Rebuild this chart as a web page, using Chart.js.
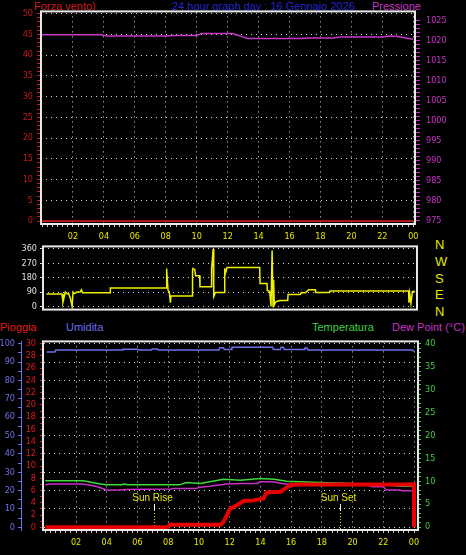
<!DOCTYPE html>
<html><head><meta charset="utf-8">
<script src="https://cdn.jsdelivr.net/npm/chart.js@4.4.1/dist/chart.umd.min.js"></script>
<style>
html,body{margin:0;padding:0;background:#000;width:466px;height:555px;overflow:hidden;position:relative;}
canvas{position:absolute;left:0;}
.t{position:absolute;font-family:'Liberation Sans',Arial,sans-serif;font-size:11px;line-height:12px;white-space:nowrap;}
.d{position:absolute;left:435px;font-family:'Liberation Sans',Arial,sans-serif;font-size:13px;line-height:13px;color:#e6e600;}
</style></head><body>
<div class="t" style="left:34px;top:0px;color:#d01c1c">Forza vento)</div>
<div class="t" style="left:172px;top:0px;color:#2424c8">24 hour graph day : 16 Gennaio 2026</div>
<div class="t" style="left:372px;top:0px;color:#c832c8">Pressione</div>
<div class="d" style="top:238px">N</div>
<div class="d" style="top:255px">W</div>
<div class="d" style="top:272px">S</div>
<div class="d" style="top:288px">E</div>
<div class="d" style="top:305px">N</div>
<div class="t" style="left:0px;top:321px;color:#e01c1c">Pioggia</div>
<div class="t" style="left:66px;top:321px;color:#6c6cf0">Umidita</div>
<div class="t" style="left:312px;top:321px;color:#40d040">Temperatura</div>
<div class="t" style="left:392px;top:321px;color:#c832c8">Dew Point (°C)</div>
<canvas id="c1" width="466" height="245" style="top:0px"></canvas>
<canvas id="c2" width="466" height="80" style="top:238px"></canvas>
<canvas id="c3" width="466" height="223" style="top:332px"></canvas>
<script>
// ---------- data ----------
const labelHours = [2, 4, 6, 8, 10, 12, 14, 16, 18, 20, 22, 24];
const hourTickLabels = ['02','04','06','08','10','12','14','16','18','20','22','00'];

const windHours = [0, 6, 12, 18, 24];
const windSpeed = [0, 0, 0, 0, 0];

const pressureHours = [0, 3.8, 4.2, 8.0, 8.5, 10.0, 10.3, 12.3, 12.7, 13.3, 16.7, 17.2, 18.8, 19.3, 22.0, 22.5, 23.0, 23.5, 24.0];
const pressure = [1021.4, 1021.4, 1021.1, 1021.1, 1021.25, 1021.25, 1021.7, 1021.7, 1021.25, 1020.5, 1020.45, 1020.6, 1020.6, 1020.85, 1020.85, 1021.1, 1021.0, 1020.6, 1020.3];

const dirHours = [0.28,1.29,1.35,1.5,1.61,1.72,1.83,1.94,2.0,2.09,2.26,2.47,2.54,2.62,4.41,4.41,8.01,8.03,8.07,8.14,8.22,8.29,8.33,9.69,9.72,9.75,9.86,9.92,10.18,10.2,10.92,10.95,11.0,11.05,11.09,11.2,11.78,11.8,11.84,11.95,14.06,14.08,14.53,14.55,14.7,14.79,14.86,14.92,14.96,15.0,15.07,15.18,15.39,15.87,15.89,16.68,16.75,17.0,17.22,17.65,17.67,18.58,18.6,23.68,23.7,23.75,23.83,23.92,24.1];
const windDir = [77,77,27,90,80,80,50,0,90,80,90,90,104,85,85,115,115,238,225,100,90,23,65,65,225,238,230,192,192,123,123,238,292,360,62,87,87,238,206,244,244,144,144,100,95,0,350,0,167,10,25,33,37,37,75,75,87,85,104,104,87,87,96,96,23,80,19,94,94];

const rainHours = [0, 7.95, 8.1, 11.4, 11.6, 12.04, 12.48, 12.9, 13.56, 14.2, 14.4, 15.3, 15.95, 16.4, 24, 24];
const rain = [0, 0, 0.4, 0.4, 0.9, 3.1, 3.6, 4.3, 4.4, 4.7, 5.7, 5.8, 6.9, 7.0, 7.0, 0];

const humHours = [0.1,0.62,0.68,5.0,5.05,6.0,6.05,6.9,6.95,7.3,7.35,11.3,11.35,11.6,11.65,12.1,12.15,14.8,14.85,15.3,15.35,15.5,15.55,16.85,16.9,17.05,17.1,23.9,23.95,24.0];
const humidity = [95.5,95.5,96.5,96.5,97,97,96.5,96.5,97.1,97.1,96.6,96.6,97.8,97.8,96.8,96.8,98,98,96.8,96.8,98,98,96.8,96.8,97.6,97.6,96.6,96.6,96.0,96.0];

const tempHours = [0, 2.5, 2.8, 3.4, 3.9, 5.0, 5.1, 5.4, 8.7, 9.2, 10.1, 10.7, 11.6, 12.7, 14.0, 14.9, 15.7, 16.6, 17.9, 20.9, 22.0, 23.1, 23.9];
const temperature = [10.1,10.1,9.9,9.5,9.2,9.2,9.4,9.2,9.2,9.7,9.5,9.9,10.4,10.2,10.6,10.4,10.0,9.9,9.7,9.4,9.2,8.9,8.9];

const dewHours = [0, 0.3, 2.3, 2.8, 3.4, 4.0, 4.9, 5.2, 8.2, 8.3, 9.8, 10.1, 10.7, 11.8, 12.7, 13.8, 14.0, 14.8, 15.4, 15.7, 18.6, 18.7, 20.9, 21.3, 22.0, 22.2, 23.1, 23.2, 23.85];
const dewPoint = [9.2, 9.4, 9.4, 9.2, 8.8, 8.1, 8.1, 8.2, 8.3, 8.4, 8.4, 8.7, 8.9, 9.4, 9.5, 9.5, 9.9, 9.9, 9.5, 9.4, 9.4, 9.2, 9.2, 8.8, 8.8, 8.1, 8.1, 7.9, 7.9];

const sunHours = [7.05, 19.2];
const sunLabels = ['Sun Rise', 'Sun Set'];

// ---------- helpers ----------
const FONT = "'Liberation Sans Narrow','DejaVu Sans Condensed','Liberation Sans',sans-serif";
const TICK_FONT = {family: FONT, size: 9};
const YEL = '#e6e600', GRIDC = '#d8d8d8';
const near = (a, b) => Math.abs(a - b) < 1e-6;
const pts = (xs, ys) => xs.map((x, i) => ({x: x, y: ys[i]}));
const range = (a, b, s) => { const r = []; for (let i = 0; a + i * s <= b + 1e-9; i++) r.push(+(a + i * s).toFixed(6)); return r; };
const minorHourTicks = range(0, 24, 1 / 3);

function hourLabel(v) {
  const i = labelHours.findIndex(h => near(h, v));
  return i >= 0 ? hourTickLabels[i] : '';
}

function xAxis(min, max, height, gridOn, display) {
  return {
    type: 'linear', position: 'bottom', min: min, max: max, bounds: 'data', display: display,
    afterBuildTicks: s => { s.ticks = minorHourTicks.map(v => ({value: v})); },
    afterFit: s => { s.height = height; },
    ticks: {autoSkip: false, maxRotation: 0, minRotation: 0, padding: 4, color: YEL, font: TICK_FONT,
      callback: v => hourLabel(v)},
    grid: {color: c => (gridOn && c.tick && labelHours.some(h => near(h, c.tick.value))) ? GRIDC : 'rgba(0,0,0,0)',
      tickColor: '#c8c8c8', tickLength: 3, lineWidth: 1},
    border: {display: false, dash: [1, 4]}
  };
}

function yAxis(o) {
  return {
    type: 'linear', axis: 'y', position: o.position, min: o.min, max: o.max, bounds: 'data', weight: o.weight || 0,
    afterBuildTicks: s => { s.ticks = o.tickVals.map(v => ({value: v})); },
    afterFit: s => { s.width = o.width; },
    ticks: {autoSkip: false, padding: o.padding, color: o.labelColor, font: TICK_FONT,
      callback: v => (Math.abs(v / o.labelEvery - Math.round(v / o.labelEvery)) < 1e-6) ? String(v) : ''},
    grid: {
      drawOnChartArea: !!o.gridEvery,
      color: c => (o.gridEvery && c.tick && Math.abs(c.tick.value / o.gridEvery - Math.round(c.tick.value / o.gridEvery)) < 1e-6) ? GRIDC : 'rgba(0,0,0,0)',
      tickColor: o.tickColor, tickLength: o.tickLength, lineWidth: 1
    },
    border: {display: !!o.borderColor, color: o.borderColor || '#000', width: 1, dash: [1, 4]}
  };
}

const framePlugin = {
  id: 'frame',
  afterDraw(chart) {
    const {ctx, chartArea: a} = chart;
    ctx.save();
    ctx.strokeStyle = '#e8e8e8';
    ctx.lineWidth = 2;
    ctx.strokeRect(a.left, a.top, a.right - a.left, a.bottom - a.top);
    ctx.restore();
  }
};

const sunPlugin = {
  id: 'sun',
  beforeDatasetsDraw(chart) {
    const ctx = chart.ctx, xs = chart.scales.x, ca = chart.chartArea;
    ctx.save();
    sunHours.forEach((h, i) => {
      const x = Math.round(xs.getPixelForValue(h)) + 0.5;
      ctx.fillStyle = YEL;
      ctx.font = "10px 'Liberation Sans',Arial,sans-serif";
      ctx.textAlign = 'center';
      ctx.textBaseline = 'middle';
      ctx.fillText(sunLabels[i], x - 2, ca.bottom - 32);
      ctx.lineWidth = 1;
      ctx.strokeStyle = '#ffffff';
      ctx.setLineDash([]);
      ctx.beginPath(); ctx.moveTo(x, ca.bottom - 26); ctx.lineTo(x, ca.bottom - 20); ctx.stroke();
      ctx.strokeStyle = YEL;
      ctx.setLineDash([1, 2]);
      ctx.beginPath(); ctx.moveTo(x, ca.bottom - 20); ctx.lineTo(x, ca.bottom); ctx.stroke();
    });
    ctx.restore();
  }
};

const base = {
  responsive: false, animation: false, devicePixelRatio: 1,
  plugins: {legend: {display: false}, tooltip: {enabled: false}, title: {display: false}},
  elements: {point: {radius: 0}, line: {tension: 0}}
};

// ---------- top chart: wind speed + pressure ----------
new Chart(document.getElementById('c1'), {
  type: 'line',
  data: {datasets: [
    {data: pts(windHours, windSpeed), borderColor: '#b01818', borderWidth: 2, yAxisID: 'y'},
    {data: pts(pressureHours, pressure), borderColor: '#c838c8', borderWidth: 1.5, yAxisID: 'press'}
  ]},
  options: Object.assign({}, base, {
    layout: {padding: {top: 11, left: 0, right: 0, bottom: 0}},
    scales: {
      x: xAxis(-0.065, 24.11, 21, true, true),
      y: yAxis({position: 'left', min: -0.72, max: 50.55, width: 41, tickVals: range(0, 50, 1), labelEvery: 5,
        labelColor: '#c81818', tickColor: '#c81818', gridEvery: 5, tickLength: 4, padding: 4}),
      press: yAxis({position: 'right', min: 974.2, max: 1027.24, width: 51, tickVals: range(975, 1025, 1), labelEvery: 5,
        labelColor: '#c832c8', tickColor: '#c832c8', tickLength: 5, padding: 6})
    }
  }),
  plugins: [framePlugin]
});

// ---------- middle chart: wind direction ----------
new Chart(document.getElementById('c2'), {
  type: 'line',
  data: {datasets: [
    {data: pts(dirHours, windDir), borderColor: '#f0f000', borderWidth: 1.5, yAxisID: 'y'}
  ]},
  options: Object.assign({}, base, {
    layout: {padding: {top: 4, left: 0, right: 49, bottom: 8}},
    scales: {
      x: xAxis(0.06, 24.22, 0, false, false),
      y: yAxis({position: 'left', min: -20, max: 376, width: 43, tickVals: [0, 90, 180, 270, 360], labelEvery: 90,
        labelColor: '#e0e0e0', tickColor: '#e0e0e0', gridEvery: 90, tickLength: 3, padding: 3})
    }
  }),
  plugins: [framePlugin]
});

// ---------- bottom chart: rain, humidity, temperature, dew point ----------
new Chart(document.getElementById('c3'), {
  type: 'line',
  data: {datasets: [
    {data: pts(rainHours, rain), borderColor: '#e80000', borderWidth: 4, yAxisID: 'rainAxis'},
    {data: pts(tempHours, temperature), borderColor: '#3cd83c', borderWidth: 1.5, yAxisID: 'tempAxis'},
    {data: pts(dewHours, dewPoint), borderColor: '#c830c8', borderWidth: 1.5, yAxisID: 'tempAxis'},
    {data: pts(humHours, humidity), borderColor: '#7070e8', borderWidth: 1.5, yAxisID: 'humAxis'}
  ]},
  options: Object.assign({}, base, {
    layout: {padding: {top: 8, left: 0, right: 0, bottom: 0}},
    scales: {
      x: xAxis(-0.15, 24.26, 25, true, true),
      humAxis: yAxis({position: 'left', weight: 1, min: -1.46, max: 101.24, width: 21, tickVals: range(0, 100, 5), labelEvery: 10,
        labelColor: '#7070e8', tickColor: '#7070e8', gridEvery: 10, tickLength: 3, padding: 3, borderColor: '#7070e8'}),
      rainAxis: yAxis({position: 'left', weight: 0, min: -0.44, max: 30.37, width: 22, tickVals: range(0, 30, 1), labelEvery: 2,
        labelColor: '#e01c1c', tickColor: '#e01c1c', tickLength: 3, padding: 4}),
      tempAxis: yAxis({position: 'right', min: -0.65, max: 40.5, width: 48, tickVals: range(0, 40, 1), labelEvery: 5,
        labelColor: '#40d040', tickColor: '#40d040', tickLength: 3, padding: 4})
    }
  }),
  plugins: [sunPlugin, framePlugin]
});
</script>
</body></html>
